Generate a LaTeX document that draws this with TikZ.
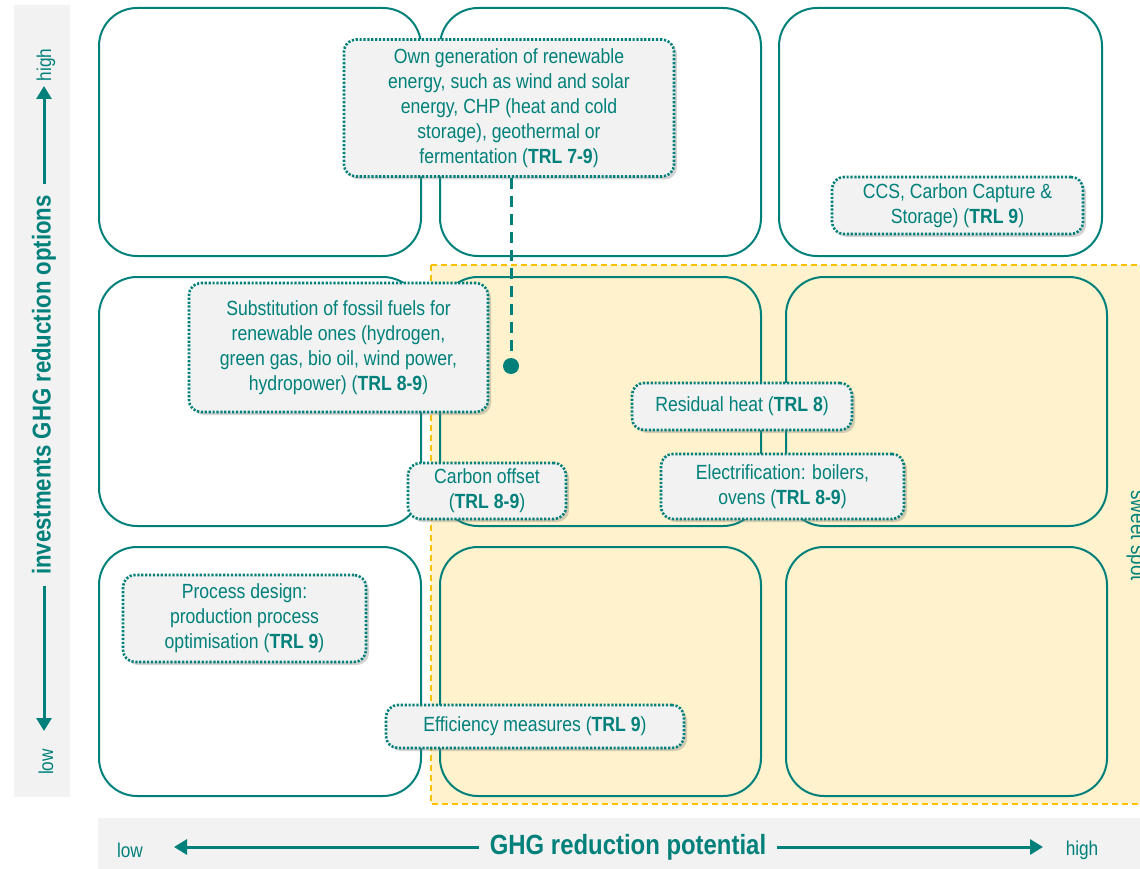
\documentclass[tikz,border=0pt]{standalone}
\usepackage{fontspec}
\setmainfont[FakeStretch=0.86]{Liberation Sans}
\usetikzlibrary{arrows.meta,shadows}
\definecolor{tealc}{RGB}{0,128,122}
\definecolor{lblfill}{RGB}{242,242,242}
\definecolor{panelc}{RGB}{242,242,242}
\definecolor{sweetc}{RGB}{255,242,204}
\definecolor{orangec}{RGB}{255,192,0}
\begin{document}
\begin{tikzpicture}[x=1pt,y=-1pt,
  font=\fontsize{20.5}{25}\selectfont,
  cell/.style={draw=tealc, line width=2pt, rounded corners=38,
    minimum width=322, minimum height=248, inner sep=0},
  lbl/.style={draw=tealc, line width=2.6pt, dash pattern=on 2.2pt off 1.7pt,
    fill=lblfill, rounded corners=12, text=tealc, align=center, inner sep=3,
    drop shadow={opacity=0.35, shadow xshift=3pt, shadow yshift=-3pt}},
  axbold/.style={text=tealc, font=\fontsize{26}{30}\selectfont\bfseries, inner xsep=11},
  axsmall/.style={text=tealc, font=\fontsize{20}{24}\selectfont},
  axarr/.style={draw=tealc, line width=3pt, -{Triangle[length=13pt,width=15pt]}}]
\useasboundingbox (0,0) rectangle (1140,869);

% axis panels
\fill[panelc] (14,5) rectangle (70,797);
\fill[panelc] (98,818) rectangle (1140,869);

% sweet spot area
\filldraw[fill=sweetc, draw=orangec, line width=1.5pt, dash pattern=on 6pt off 4pt]
  (431,265) rectangle (1150,804);
\node[rotate=-90, anchor=base west, text=tealc, font=\fontsize{22}{26}\selectfont]
  (sweet) at (1131,487) {sweet spot};

% matrix cells
\node[cell] (c11) at (260,132) {};
\node[cell, minimum width=321] (c12) at (600.5,132) {};
\node[cell, minimum width=323] (c13) at (940.5,132) {};
\node[cell, minimum height=249] (c21) at (260,401.5) {};
\node[cell, minimum width=321, minimum height=249] (c22) at (600.5,401.5) {};
\node[cell, minimum width=321, minimum height=249] (c23) at (946.5,401.5) {};
\node[cell, minimum height=249] (c31) at (260,671.5) {};
\node[cell, minimum width=321, minimum height=249] (c32) at (600.5,671.5) {};
\node[cell, minimum width=321, minimum height=249] (c33) at (946.5,671.5) {};

% marker of the own-generation option
\node[circle, fill=tealc, inner sep=0, minimum size=16] (dot) at (511,366) {};

% option labels
\node[lbl, minimum width=330, minimum height=137] (own) at (509,108)
  {Own generation of renewable\\ energy, such as wind and solar\\ energy, CHP (heat and cold\\ storage), geothermal or\\ fermentation (\textbf{TRL 7-9})};
\draw[tealc, line width=3pt, dash pattern=on 11pt off 7pt] (own.south -| dot) -- (dot);
\node[lbl, minimum width=251, minimum height=57] (ccs) at (957.5,205.5)
  {CCS, Carbon Capture \&\\ Storage) (\textbf{TRL 9})};
\node[lbl, minimum width=299, minimum height=129] (subst) at (338.5,347.5)
  {Substitution of fossil fuels for\\ renewable ones (hydrogen,\\ green gas, bio oil, wind power,\\ hydropower) (\textbf{TRL 8-9})};
\node[lbl, minimum width=220, minimum height=47] (resid) at (742,406.5)
  {Residual heat (\textbf{TRL 8})};
\node[lbl, minimum width=158, minimum height=56] (offset) at (487,491)
  {Carbon offset\\ (\textbf{TRL 8-9})};
\node[lbl, minimum width=243, minimum height=65] (elec) at (782.5,486.5)
  {Electrification: boilers,\\ ovens (\textbf{TRL 8-9})};
\node[lbl, minimum width=243, minimum height=87] (proc) at (244.5,618.5)
  {Process design:\\ production process\\ optimisation (\textbf{TRL 9})};
\node[lbl, minimum width=298, minimum height=43] (eff) at (535,726.5)
  {Efficiency measures (\textbf{TRL 9})};

% vertical axis
\node[axbold, font=\fontsize{25.8}{30}\selectfont\bfseries, rotate=90] (gy) at (44,385) {investments GHG reduction options};
\coordinate (yh) at (44,86);
\coordinate (yl) at (44,731);
\draw[axarr] (gy.east) -- (yh);
\draw[axarr] (gy.west) -- (yl);
\node[axsmall, rotate=90] (yhigh) at (46,65) {high};
\node[axsmall, rotate=90] (ylow) at (46,762) {low};

% horizontal axis
\node[axbold, font=\fontsize{27.8}{32}\selectfont\bfseries] (gx) at (628,847) {GHG reduction potential};
\coordinate (xl) at (174,847);
\coordinate (xh) at (1043,847);
\draw[axarr] (gx.west) -- (xl);
\draw[axarr] (gx.east) -- (xh);
\node[axsmall] (xlow) at (130,850) {low};
\node[axsmall] (xhigh) at (1082,850) {high};
\end{tikzpicture}
\end{document}
